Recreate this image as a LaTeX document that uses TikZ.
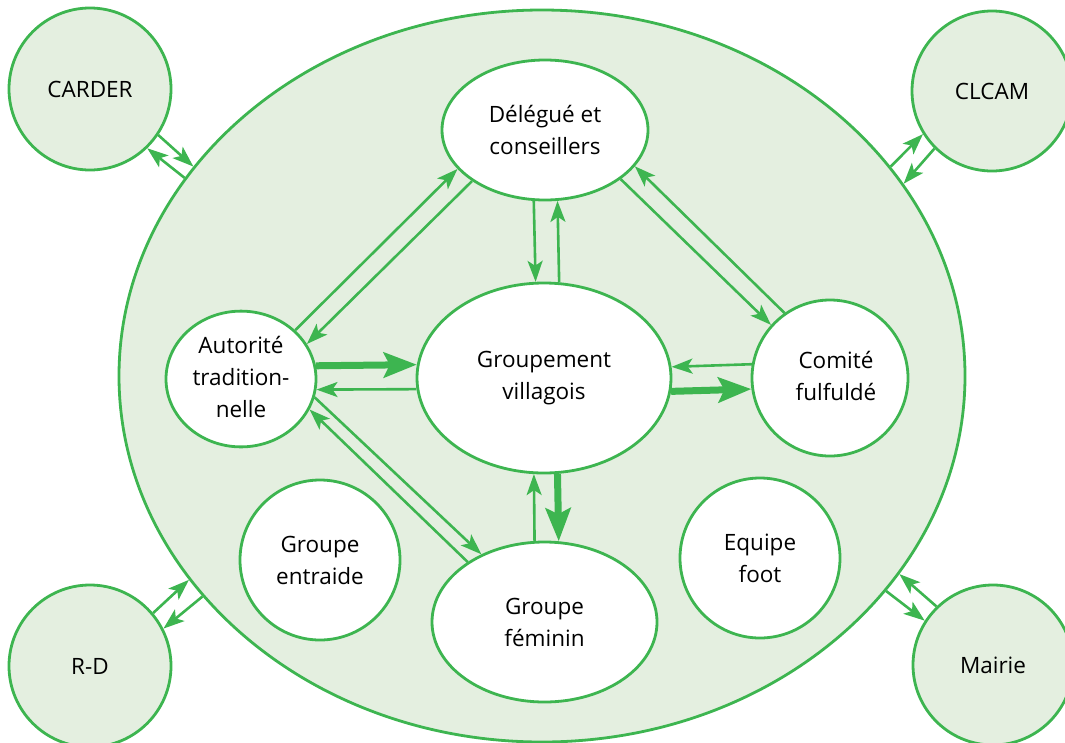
\documentclass[tikz,border=0pt]{standalone}
\usepackage{fontspec}
\setmainfont{Open Sans}
\usetikzlibrary{shapes.geometric,arrows.meta}
\definecolor{leaf}{RGB}{61,181,80}
\definecolor{meadow}{RGB}{228,239,224}
\begin{document}
\begin{tikzpicture}[x=1pt,y=-1pt,
  bubble/.style={ellipse, draw=leaf, line width=2.8pt, fill=white, inner sep=0pt,
                 align=center, font=\fontsize{22.5}{32}\selectfont},
  outer/.style={bubble, fill=meadow},
  link/.style={draw=leaf, line width=2.6pt, -{Stealth[length=21pt,width=15pt,inset=5pt]}},
  mainlink/.style={draw=leaf, line width=7pt, -{Stealth[length=33pt,width=25pt,inset=6pt]}},
]
\useasboundingbox (0,0) rectangle (1065,742);

% the village as a whole
\node[outer, minimum width=846pt, minimum height=732pt] (village) at (542,376) {};

% outside partners
\node[outer, minimum width=162pt, minimum height=162pt] (carder) at (90,89) {CARDER};
\node[outer, minimum width=160pt, minimum height=160pt] (clcam) at (992,91) {CLCAM};
\node[outer, minimum width=162pt, minimum height=162pt] (rd) at (90,666) {R-D};
\node[outer, minimum width=160pt, minimum height=160pt] (mairie) at (993,665) {Mairie};

% groups inside the village
\node[bubble, minimum width=206pt, minimum height=140pt] (delegue) at (545,130) {Délégué et\\conseillers};
\node[bubble, minimum width=254pt, minimum height=190pt] (gv) at (544,378) {Groupement\\villagois};
\node[bubble, minimum width=150pt, minimum height=130pt] (autorite) at (241,379) {\raisebox{-5pt}{\begin{tabular}{@{}c@{}}Autorité\\tradition-\\nelle\end{tabular}}};
\node[bubble, minimum width=156pt, minimum height=156pt] (comite) at (830,378) {\hspace*{12pt}\begin{tabular}{@{}c@{}}Comité\\fulfuldé\end{tabular}};
\node[bubble, minimum width=160pt, minimum height=160pt] (entraide) at (320,560) {Groupe\\entraide};
\node[bubble, minimum width=160pt, minimum height=160pt] (foot) at (760,558) {Equipe\\foot};
\node[bubble, minimum width=225pt, minimum height=160pt] (feminin) at (544.5,622) {Groupe\\féminin};

% exchanges with the outside partners
\draw[link] (carder.326.5) -- (village.149.1);
\draw[link] (village.151.3) -- (carder.314);
\draw[link] (village.31.4) -- (clcam.212.5);
\draw[link] (clcam.225.5) -- (village.28.7);
\draw[link] (rd.40.5) -- (village.210.6);
\draw[link] (village.213.3) -- (rd.27.5);
\draw[link] (village.328.6) -- (mairie.147.3);
\draw[link] (mairie.134) -- (village.331.1);

% exchanges inside the village
\draw[link] (autorite.42.1) -- (delegue.204.7);
\draw[link] (delegue.215.6) -- (autorite.28.6);
\draw[link] (delegue.327.9) -- (comite.138.5);
\draw[link] (comite.125.5) -- (delegue.338.7);
\draw[link] (delegue.261.8) -- (gv.95.4);
\draw[link] (gv.81.6) -- (delegue.280.6);
\draw[mainlink] (autorite.10.8) -- (gv.174.1);
\draw[link] (gv.185) -- (autorite.352.3);
\draw[link] (comite.170.4) -- (gv.5.9);
\draw[mainlink] (gv.354.6) -- (comite.188.8);
\draw[mainlink] (gv.278.4) -- (feminin.80.3);
\draw[link] (feminin.97.5) -- (gv.264);
\draw[link] (autorite.346.3) -- (feminin.133.9);
\draw[link] (feminin.142.3) -- (autorite.336.1);
\end{tikzpicture}
\end{document}
